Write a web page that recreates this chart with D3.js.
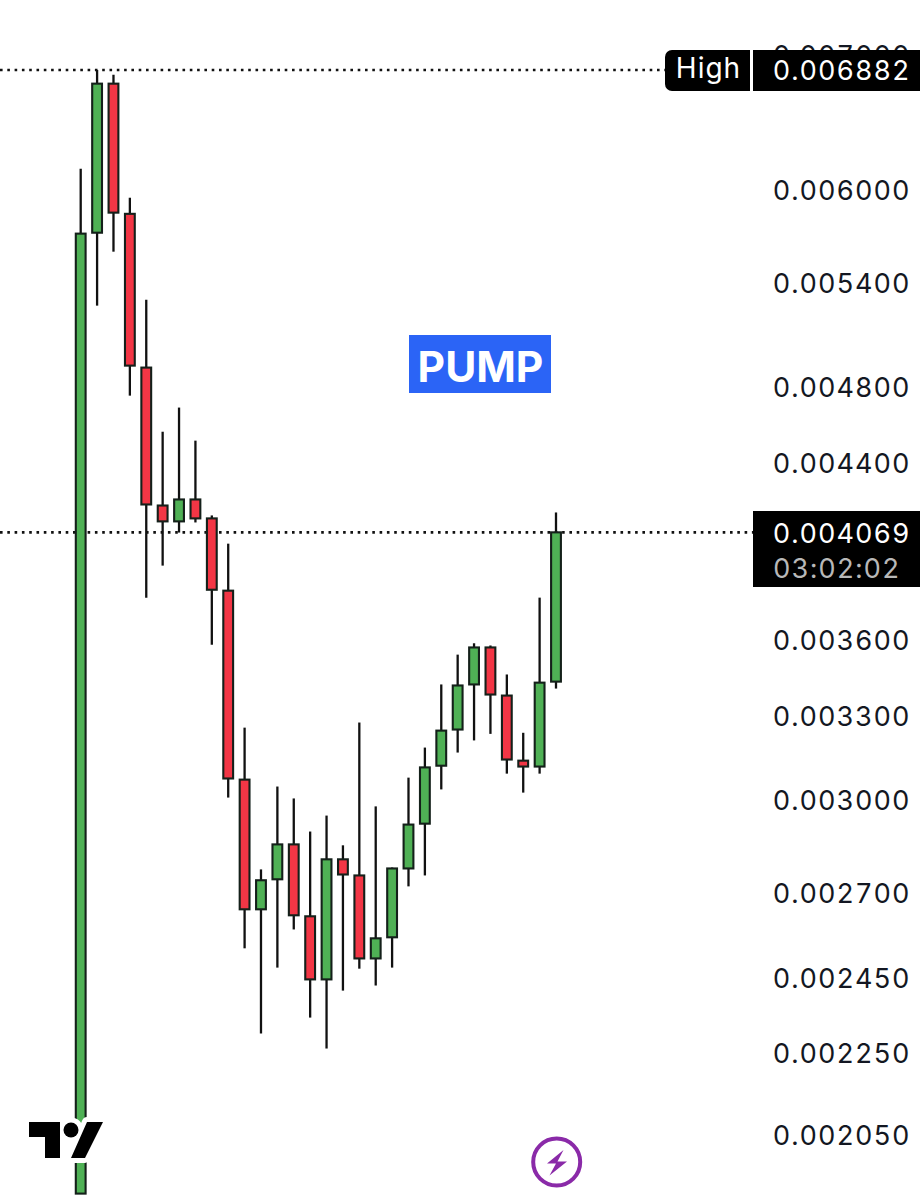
<!DOCTYPE html>
<html><head><meta charset="utf-8">
<script src="https://cdn.jsdelivr.net/npm/d3@7"></script>
<style>
html,body{margin:0;padding:0;background:#fff}
svg{display:block}
text{font-family:Inter,"Noto Sans",sans-serif;font-variant-numeric:tabular-nums}
</style></head><body><div id="chart"></div>
<script>
const opens  = [1919,5720,6776,5844,4907,4195,4120,4224,4134,3808,3072,2651,2743,2854,2630,2448,2806,2755,2507,2568,2777,2922,3121,3252,3423,3570,3380,3139,3118,3434];
const closes = [5714,6776,5852,4918,4200,4120,4224,4134,3812,3076,2651,2740,2854,2633,2448,2806,2758,2507,2565,2777,2919,3115,3248,3419,3570,3384,3143,3118,3430,4069];
const highs  = [6152,6882,6845,5952,5301,4562,4689,4516,4148,4017,3259,2774,3048,3007,2896,2949,2851,3278,2980,2780,3079,3186,3423,3541,3587,3578,3462,3240,3778,4162];
const lows   = [1919,5265,5598,4753,3778,3918,4068,4115,3581,3010,2536,2302,2481,2591,2344,2263,2417,2478,2431,2481,2721,2755,3038,3168,3212,3236,3093,3027,3093,3407];
const priceTicks = [0.007,0.006,0.0054,0.0048,0.0044,0.0036,0.0033,0.003,0.0027,0.00245,0.00225,0.00205];
const highPrice = 0.006882, lastPrice = 0.004069;
const countdown = "03:02:02", highLabel = "High", tagLabel = "PUMP";

const W=920,H=1200;
const svg=d3.select("#chart").append("svg").attr("width",W).attr("height",H).attr("viewBox",[0,0,W,H]);
svg.append("rect").attr("width",W).attr("height",H).attr("fill","#fff");

const y=d3.scaleLog().domain([highPrice,0.00205]).range([70,1135.5]);
const x=d3.scaleLinear().domain([0,opens.length-1]).range([80.7,556]);
const px=v=>y(v*1e-6);
const candles=opens.map((o,i)=>({i,o,c:closes[i],h:highs[i],l:lows[i]}));
const LS="1px";

// price axis
const axis=d3.axisRight(y).tickValues(priceTicks).tickSize(0).tickFormat(d=>d.toFixed(6));
const ag=svg.append("g").call(axis);
ag.select(".domain").remove();
ag.selectAll("text").attr("x",910.5).attr("text-anchor","end").attr("dy","0.34em")
  .attr("fill","#131722").style("font-family","Inter,sans-serif").style("font-size","27px").style("letter-spacing",LS);

// dotted price lines
svg.append("line").attr("x1",0).attr("x2",665).attr("y1",y(highPrice)).attr("y2",y(highPrice))
  .attr("stroke","#111").attr("stroke-width",2.6).attr("stroke-dasharray","2.6 4.7");
svg.append("line").attr("x1",0).attr("x2",753).attr("y1",y(lastPrice)).attr("y2",y(lastPrice))
  .attr("stroke","#111").attr("stroke-width",2.6).attr("stroke-dasharray","2.6 4.7");

// candles
const g=svg.append("g");
g.selectAll("line.wick").data(candles).join("line").attr("class","wick")
  .attr("x1",d=>x(d.i)).attr("x2",d=>x(d.i)).attr("y1",d=>px(d.h)).attr("y2",d=>px(d.l))
  .attr("stroke","#111").attr("stroke-width",2.3);
g.selectAll("rect.body").data(candles).join("rect").attr("class","body")
  .attr("x",d=>x(d.i)-4.9).attr("width",9.8)
  .attr("y",d=>px(Math.max(d.o,d.c))).attr("height",d=>Math.max(1,px(Math.min(d.o,d.c))-px(Math.max(d.o,d.c))))
  .attr("fill",d=>d.c>=d.o?"#4fb155":"#f23645")
  .attr("stroke","#14201a").attr("stroke-width",2.1);

// High label
svg.append("path").attr("d","M750,50H672a7,7 0 0 0 -7,7V84a7,7 0 0 0 7,7H750Z").attr("fill","#000");
svg.append("rect").attr("x",753).attr("y",50).attr("width",167).attr("height",41).attr("fill","#000");
svg.append("text").attr("x",708.5).attr("y",78).attr("text-anchor","middle").attr("fill","#fff").style("font-size","28px").style("letter-spacing","1px").text(highLabel);
svg.append("text").attr("x",910.5).attr("y",80).attr("text-anchor","end").attr("fill","#fff").style("font-size","27px").style("letter-spacing",LS).text(highPrice.toFixed(6));

// Last price label
svg.append("rect").attr("x",753).attr("y",511).attr("width",167).attr("height",76).attr("fill","#000");
svg.append("text").attr("x",910.5).attr("y",543).attr("text-anchor","end").attr("fill","#fff").style("font-size","27px").style("letter-spacing",LS).text(lastPrice.toFixed(6));
svg.append("text").attr("x",900.5).attr("y",578).attr("text-anchor","end").attr("fill","#b8b8b8").style("font-size","27px").style("letter-spacing",LS).text(countdown);

// PUMP tag
svg.append("rect").attr("x",409).attr("y",335).attr("width",142).attr("height",58).attr("fill","#2b64f6");
svg.append("text").attr("x",480.5).attr("y",381.5).attr("text-anchor","middle").attr("fill","#fff").style("font-size","42.5px").style("font-weight",700).text(tagLabel);

// TradingView logo
const logo=svg.append("g");
const logoPath="M29,1122H60V1158H45V1137H29Z M87,1122H103L85,1158H71Z";
logo.append("path").attr("d",logoPath).attr("fill","#fff").attr("stroke","#fff").attr("stroke-width",10).attr("stroke-linejoin","round");
logo.append("circle").attr("cx",71).attr("cy",1130).attr("r",7.5).attr("fill","#fff").attr("stroke","#fff").attr("stroke-width",10);
logo.append("path").attr("d",logoPath).attr("fill","#000");
logo.append("circle").attr("cx",71).attr("cy",1130).attr("r",7.5).attr("fill","#000");

// Bolt icon
svg.append("circle").attr("cx",556.7).attr("cy",1162).attr("r",23.5).attr("fill","#fff").attr("stroke","#8a2aa8").attr("stroke-width",4);
svg.append("path").attr("d","M563.5,1150L547,1163.5H556L549.5,1175.5L567,1161.5H557.5Z").attr("fill","#8a2aa8");
</script></body></html>
